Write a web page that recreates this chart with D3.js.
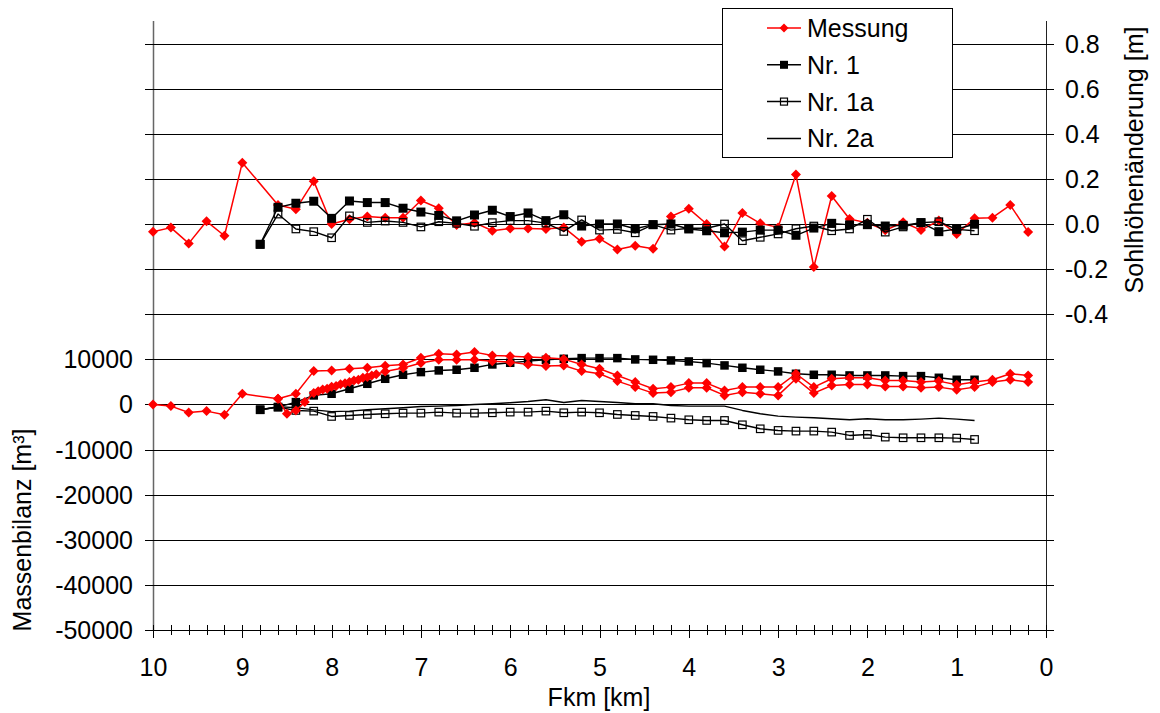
<!DOCTYPE html>
<html><head><meta charset="utf-8">
<script src="https://cdn.jsdelivr.net/npm/d3@7"></script>
<style>
html,body{margin:0;padding:0;background:#fff;}
svg text{font-family:"Liberation Sans",Arial,sans-serif;font-size:25px;fill:#000;}
</style></head>
<body><svg id="chart" width="1160" height="713"></svg>
<script>
// ---------- data ----------
const xTicks = [10,9,8,7,6,5,4,3,2,1,0];
const leftTickLabels = [-50000,-40000,-30000,-20000,-10000,0,10000];
const rightTickLabels = [-0.4,-0.2,0.0,0.2,0.4,0.6,0.8];
const seriesNames = ["Messung","Nr. 1","Nr. 1a","Nr. 2a"];

// Sohlhöhenänderung [m] (right axis)
const kmMessung = [10,9.8,9.6,9.4,9.2,9.0,8.6,8.4,8.2,8.0,7.8,7.6,7.4,7.2,7.0,6.8,6.6,6.4,6.2,6.0,5.8,5.6,5.4,5.2,5.0,4.8,4.6,4.4,4.2,4.0,3.8,3.6,3.4,3.2,3.0,2.8,2.6,2.4,2.2,2.0,1.8,1.6,1.4,1.2,1.0,0.8,0.6,0.4,0.2];
const sohleMessung = [-0.034,-0.016,-0.086,0.012,-0.052,0.272,0.084,0.065,0.19,0.0,0.021,0.033,0.028,0.028,0.104,0.07,-0.004,0.006,-0.03,-0.02,-0.02,-0.022,-0.015,-0.079,-0.065,-0.113,-0.096,-0.11,0.033,0.068,0.0,-0.1,0.049,0.003,-0.015,0.219,-0.191,0.124,0.022,0.005,-0.028,0.008,-0.027,0.015,-0.044,0.025,0.028,0.084,-0.036];

const kmSim = [8.8,8.6,8.4,8.2,8.0,7.8,7.6,7.4,7.2,7.0,6.8,6.6,6.4,6.2,6.0,5.8,5.6,5.4,5.2,5.0,4.8,4.6,4.4,4.2,4.0,3.8,3.6,3.4,3.2,3.0,2.8,2.6,2.4,2.2,2.0,1.8,1.6,1.4,1.2,1.0,0.8];
const sohleNr1 = [-0.09,0.074,0.092,0.101,0.025,0.102,0.095,0.095,0.07,0.053,0.038,0.014,0.04,0.061,0.033,0.049,0.015,0.041,-0.009,0.0,0.0,-0.021,-0.003,0.0,-0.022,-0.03,-0.039,-0.036,-0.027,-0.027,-0.05,-0.018,0.003,-0.004,-0.003,-0.009,-0.006,0.006,-0.034,-0.022,-0.001];
const sohleNr1a = [-0.09,0.044,-0.022,-0.034,-0.061,0.036,0.007,0.013,0.007,-0.013,0.01,0.003,-0.01,0.006,0.015,0.015,0.004,-0.033,0.018,-0.027,-0.024,-0.039,-0.003,-0.027,-0.019,-0.019,0.0,-0.074,-0.059,-0.044,-0.021,-0.009,-0.03,-0.022,0.021,-0.036,-0.013,0.006,0.01,-0.024,-0.03];

// Massenbilanz [m³] (left axis)
const massMessungA = [0,-370,-1770,-1480,-2290,2370,1260,2370,7390,7540,7900,8130,8570,8870,10340,11230,11080,11600,10860,10710,10490,10340,10050,8870,7900,6430,4950,3470,3840,4730,4730,3100,3840,3840,3840,6800,3840,5690,5910,5910,5320,5320,4950,5170,4360,4950,5470,6800,6430];
const kmMessungB = [8.6,8.5,8.4,8.3,8.2,8.15,8.1,8.05,8.0,7.95,7.9,7.85,7.8,7.75,7.7,7.65,7.6,7.55,7.5,7.4,7.2,7.0,6.8,6.6,6.4,6.2,6.0,5.8,5.6,5.4,5.2,5.0,4.8,4.6,4.4,4.2,4.0,3.8,3.6,3.4,3.2,3.0,2.8,2.6,2.4,2.2,2.0,1.8,1.6,1.4,1.2,1.0,0.8,0.6,0.4,0.2];
const massMessungB = [1260,-2070,-1330,520,2510,2900,3300,3500,3900,4100,4500,4700,5000,5300,5500,5900,6100,6400,6700,7300,8100,9200,9900,9900,9900,9600,9380,8870,8500,8650,7390,6800,5170,3840,2510,2730,3690,3690,2000,2730,2370,2000,5690,2510,4210,4430,4430,3990,3990,3690,3840,3250,3840,4950,5470,4950];
const massNr1 = [-1180,-590,520,2000,2370,3470,4580,5690,6580,7170,7540,7690,8130,8870,9240,9600,9900,10120,10270,10270,10270,9980,9900,9750,9530,9160,8650,8130,7690,7320,6800,6580,6580,6430,6430,6430,6280,6280,5910,5470,5470];
const massNr1a = [-1180,-590,-1330,-1480,-2660,-2440,-2220,-2070,-1920,-1920,-1700,-1920,-1920,-1850,-1700,-1700,-1480,-1850,-1700,-1850,-2220,-2440,-2660,-3030,-3400,-3550,-3550,-4510,-5400,-5760,-5910,-5910,-6130,-6870,-6650,-7240,-7390,-7390,-7390,-7460,-7760];
const massNr2a = [-1180,-500,-700,-1200,-1600,-1480,-1180,-960,-740,-440,-370,-220,0,150,370,660,1040,440,890,660,440,150,150,-220,-370,-370,-370,-1330,-2070,-2590,-2810,-2960,-3180,-3400,-3180,-3400,-3400,-3250,-3030,-3250,-3550];

// ---------- chart ----------
const svg = d3.select("#chart");
const L = 153, R = 1046, T = 21, B = 630;
const x = d3.scaleLinear().domain([10,0]).range([L,R]);
const yL = d3.scaleLinear().domain([-50000,85000]).range([B,T]);
const yR = d3.scaleLinear().domain([-1.8,0.9]).range([B,T]);
const gridVals = d3.range(-50000, 85000, 10000);
const crisp = v => Math.round(v) + 0.5;

// gridlines
svg.append("g").selectAll("line").data(gridVals).join("line")
  .attr("x1", L).attr("x2", R)
  .attr("y1", d => crisp(yL(d))).attr("y2", d => crisp(yL(d)))
  .attr("stroke", "#000").attr("stroke-width", 1);

// left axis line + ticks
svg.append("line").attr("x1", L+0.5).attr("x2", L+0.5).attr("y1", T).attr("y2", B)
  .attr("stroke", "#666").attr("stroke-width", 1.5);
svg.append("g").selectAll("line").data(gridVals).join("line")
  .attr("x1", L-8).attr("x2", L+8)
  .attr("y1", d => crisp(yL(d))).attr("y2", d => crisp(yL(d)))
  .attr("stroke", "#000");
svg.append("g").selectAll("text").data(leftTickLabels).join("text")
  .attr("x", 133).attr("y", d => yL(d)).attr("dy", "0.36em")
  .attr("text-anchor", "end").text(d => String(d));

// right axis line + ticks
svg.append("line").attr("x1", R+0.5).attr("x2", R+0.5).attr("y1", T).attr("y2", B)
  .attr("stroke", "#222").attr("stroke-width", 1);
svg.append("g").selectAll("line").data(gridVals).join("line")
  .attr("x1", R-8).attr("x2", R+8)
  .attr("y1", d => crisp(yL(d))).attr("y2", d => crisp(yL(d)))
  .attr("stroke", "#000");
svg.append("g").selectAll("text").data(rightTickLabels).join("text")
  .attr("x", 1065).attr("y", d => yR(d)).attr("dy", "0.36em")
  .attr("text-anchor", "start").text(d => d.toFixed(1));

// bottom axis
const xAxis = d3.axisBottom(x).tickValues(xTicks).tickSize(0).tickPadding(0).tickFormat(d3.format("d"));
const gx = svg.append("g").attr("transform", `translate(0,${B+0.5})`).call(xAxis);
gx.select(".domain").attr("stroke", "#000").attr("d", `M${L-8},0H${R+8}`);
gx.selectAll(".tick text").attr("y", 45).attr("dy", 0)
  .style("font-family", '"Liberation Sans",Arial,sans-serif').style("font-size", "25px").attr("fill", "#000");
const minorKm = d3.range(0, 10.001, 0.2);
svg.append("g").selectAll("line").data(minorKm).join("line")
  .attr("x1", d => crisp(x(d))).attr("x2", d => crisp(x(d)))
  .attr("y1", B-5).attr("y2", d => Math.abs(d - Math.round(d)) < 1e-6 ? B+8 : B+5)
  .attr("stroke", "#000");

// axis titles
svg.append("text").attr("transform", "translate(31,530) rotate(-90)")
  .attr("text-anchor", "middle").text("Massenbilanz [m³]");
svg.append("text").attr("transform", "translate(1143,160) rotate(-90)")
  .attr("text-anchor", "middle").text("Sohlhöhenänderung [m]");
svg.append("text").attr("x", 599).attr("y", 706)
  .attr("text-anchor", "middle").text("Fkm [km]");

// helpers
const diamond = d3.symbol().type(d3.symbolDiamond2 || d3.symbolDiamond).size(50);
function drawLine(g, xs, ys, yScale, color, w) {
  const pts = xs.map((k,i) => [x(k), yScale(ys[i])]);
  g.append("path").attr("d", d3.line()(pts)).attr("fill","none")
    .attr("stroke", color).attr("stroke-width", w).attr("stroke-linejoin","round");
  return pts;
}
function diamonds(g, pts, s) {
  g.append("g").selectAll("path").data(pts).join("path")
    .attr("transform", d => `translate(${d[0]},${d[1]})`)
    .attr("d", `M0,${-s}L${s},0L0,${s}L${-s},0Z`).attr("fill", "#ff0000");
}
function squares(g, pts, s, filled) {
  g.append("g").selectAll("rect").data(pts).join("rect")
    .attr("x", d => d[0]-s/2).attr("y", d => d[1]-s/2).attr("width", s).attr("height", s)
    .attr("fill", filled ? "#000" : "none").attr("stroke", "#000").attr("stroke-width", filled ? 0 : 1.2);
}

const gData = svg.append("g");
// lower band (Massenbilanz)
drawLine(gData, kmSim, massNr2a, yL, "#000", 1.4);
let p = drawLine(gData, kmSim, massNr1a, yL, "#000", 1.4); squares(gData, p, 7.5, false);
p = drawLine(gData, kmSim, massNr1, yL, "#000", 1.4); squares(gData, p, 8.5, true);
p = drawLine(gData, kmMessung, massMessungA, yL, "#ff0000", 1.5); diamonds(gData, p, 5);
p = drawLine(gData, kmMessungB, massMessungB, yL, "#ff0000", 1.5); diamonds(gData, p, 5);
// upper band (Sohlhöhenänderung)
p = drawLine(gData, kmMessung, sohleMessung, yR, "#ff0000", 1.5); diamonds(gData, p, 5);
p = drawLine(gData, kmSim, sohleNr1a, yR, "#000", 1.4); squares(gData, p, 7.5, false);
p = drawLine(gData, kmSim, sohleNr1, yR, "#000", 1.4); squares(gData, p, 9, true);

// legend
const lg = svg.append("g");
lg.append("rect").attr("x", 722.5).attr("y", 8.5).attr("width", 230).attr("height", 149)
  .attr("fill", "#fff").attr("stroke", "#000").attr("stroke-width", 1);
seriesNames.forEach((name, i) => {
  const cy = 28 + i*36.8;
  const col = i === 0 ? "#ff0000" : "#000";
  lg.append("line").attr("x1", 767).attr("x2", 801).attr("y1", cy).attr("y2", cy)
    .attr("stroke", col).attr("stroke-width", 1.5);
  if (i === 0) diamonds(lg, [[784, cy]], 4.5);
  if (i === 1) squares(lg, [[784, cy]], 8, true);
  if (i === 2) squares(lg, [[784, cy]], 7, false);
  lg.append("text").attr("x", 807).attr("y", cy + 9).text(name);
});
</script></body></html>
